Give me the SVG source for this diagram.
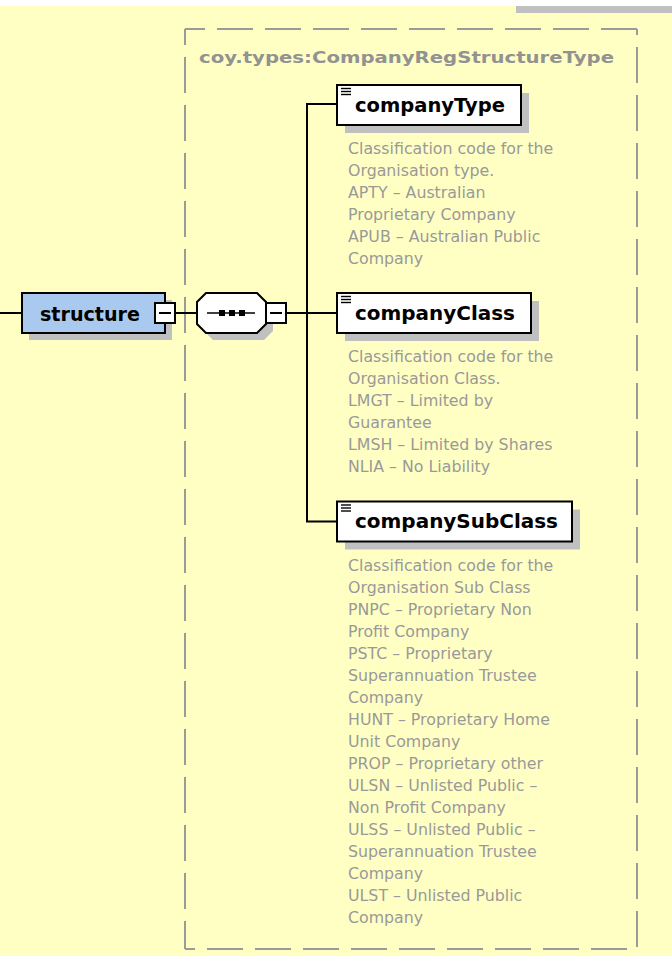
<svg xmlns="http://www.w3.org/2000/svg" width="672" height="956" viewBox="0 0 672 956">
<style>
.bg{fill:#ffffc4}
.shadow{fill:#c0c0c0}
.box{fill:#ffffff;stroke:#000;stroke-width:2}
.root{fill:#a9c9ee;stroke:#000;stroke-width:2}
.conn{stroke:#000;stroke-width:2;fill:none}
.dash{stroke:#9a9a9a;stroke-width:2;stroke-dasharray:36 12;fill:none}
.lbl{font-family:"DejaVu Sans","Liberation Sans",sans-serif;font-weight:bold;font-size:19px;fill:#000}
.title{font-family:"DejaVu Sans","Liberation Sans",sans-serif;font-weight:bold;font-size:16.5px;fill:#929292}
.desc{font-family:"DejaVu Sans","Liberation Sans",sans-serif;font-size:15.8px;fill:#999999}
.icon{stroke:#000;stroke-width:1.4}
</style>
<rect class="bg" x="0" y="0" width="672" height="956"/>
<rect x="0" y="0" width="672" height="6" fill="#ffffff"/>
<rect x="516" y="6" width="156" height="7" fill="#c0c0c0"/>

<g id="type-box">
<line class="dash" x1="185" y1="29" x2="637" y2="29" stroke-dashoffset="16"/>
<line class="dash" x1="637" y1="29" x2="637" y2="949" stroke-dashoffset="30"/>
<line class="dash" x1="185" y1="949" x2="637" y2="949" stroke-dashoffset="26"/>
<line class="dash" x1="185" y1="29" x2="185" y2="949" stroke-dashoffset="20"/>
<text class="title" x="199" y="62.5" textLength="415" lengthAdjust="spacingAndGlyphs">coy.types:CompanyRegStructureType</text>
</g>

<g id="connectors">
<line class="conn" x1="0" y1="313" x2="22" y2="313"/>
<line class="conn" x1="175" y1="313" x2="197" y2="313"/>
<line class="conn" x1="286" y1="313" x2="337" y2="313"/>
<polyline class="conn" points="337,104 307,104 307,521.5 337,521.5"/>
</g>

<g id="structure">
<rect class="shadow" x="29" y="300" width="143" height="40"/>
<rect class="root" x="22" y="293" width="143" height="40"/>
<text class="lbl" x="40" y="321" textLength="100" lengthAdjust="spacingAndGlyphs">structure</text>
<rect class="box" x="155" y="303" width="20" height="20"/>
<line class="conn" x1="159" y1="313" x2="171" y2="313"/>
</g>

<g id="sequence">
<polygon class="shadow" points="213,300 264,300 273,309 273,331 264,340 213,340 204,331 204,309"/>
<polygon class="box" points="206,293 257,293 266,302 266,324 257,333 206,333 197,324 197,302"/>
<line x1="207" y1="313" x2="255" y2="313" stroke="#000" stroke-width="1.5"/>
<rect x="219" y="310" width="6" height="6" fill="#000"/>
<rect x="229" y="310" width="6" height="6" fill="#000"/>
<rect x="239" y="310" width="6" height="6" fill="#000"/>
<rect class="box" x="266" y="303" width="20" height="20"/>
<line class="conn" x1="270" y1="313" x2="282" y2="313"/>
</g>

<g id="companyType">
<rect class="shadow" x="345" y="93" width="184" height="40"/>
<rect class="box" x="337" y="85" width="184" height="40"/>
<line class="icon" x1="341" y1="88.5" x2="351" y2="88.5"/>
<line class="icon" x1="341" y1="91.5" x2="351" y2="91.5"/>
<line class="icon" x1="341" y1="94.5" x2="351" y2="94.5"/>
<text class="lbl" x="355" y="111.5" textLength="150" lengthAdjust="spacingAndGlyphs">companyType</text>
<text class="desc" x="348">
<tspan x="348" y="154">Classification code for the</tspan>
<tspan x="348" y="176">Organisation type.</tspan>
<tspan x="348" y="198">APTY – Australian</tspan>
<tspan x="348" y="220">Proprietary Company</tspan>
<tspan x="348" y="242">APUB – Australian Public</tspan>
<tspan x="348" y="264">Company</tspan>
</text>
</g>

<g id="companyClass">
<rect class="shadow" x="345" y="301" width="194" height="40"/>
<rect class="box" x="337" y="293" width="194" height="40"/>
<line class="icon" x1="341" y1="296.5" x2="351" y2="296.5"/>
<line class="icon" x1="341" y1="299.5" x2="351" y2="299.5"/>
<line class="icon" x1="341" y1="302.5" x2="351" y2="302.5"/>
<text class="lbl" x="355" y="319.5" textLength="160" lengthAdjust="spacingAndGlyphs">companyClass</text>
<text class="desc" x="348">
<tspan x="348" y="362.3">Classification code for the</tspan>
<tspan x="348" y="384.3">Organisation Class.</tspan>
<tspan x="348" y="406.3">LMGT – Limited by</tspan>
<tspan x="348" y="428.3">Guarantee</tspan>
<tspan x="348" y="450.3">LMSH – Limited by Shares</tspan>
<tspan x="348" y="472.3">NLIA – No Liability</tspan>
</text>
</g>

<g id="companySubClass">
<rect class="shadow" x="345" y="509.5" width="235" height="40"/>
<rect class="box" x="337" y="501.5" width="235" height="40"/>
<line class="icon" x1="341" y1="505" x2="351" y2="505"/>
<line class="icon" x1="341" y1="508" x2="351" y2="508"/>
<line class="icon" x1="341" y1="511" x2="351" y2="511"/>
<text class="lbl" x="355" y="528" textLength="203" lengthAdjust="spacingAndGlyphs">companySubClass</text>
<text class="desc" x="348">
<tspan x="348" y="570.5">Classification code for the</tspan>
<tspan x="348" y="592.5">Organisation Sub Class</tspan>
<tspan x="348" y="614.5">PNPC – Proprietary Non</tspan>
<tspan x="348" y="636.5">Profit Company</tspan>
<tspan x="348" y="658.5">PSTC – Proprietary</tspan>
<tspan x="348" y="680.5">Superannuation Trustee</tspan>
<tspan x="348" y="702.5">Company</tspan>
<tspan x="348" y="724.5">HUNT – Proprietary Home</tspan>
<tspan x="348" y="746.5">Unit Company</tspan>
<tspan x="348" y="768.5">PROP – Proprietary other</tspan>
<tspan x="348" y="790.5">ULSN – Unlisted Public –</tspan>
<tspan x="348" y="812.5">Non Profit Company</tspan>
<tspan x="348" y="834.5">ULSS – Unlisted Public –</tspan>
<tspan x="348" y="856.5">Superannuation Trustee</tspan>
<tspan x="348" y="878.5">Company</tspan>
<tspan x="348" y="900.5">ULST – Unlisted Public</tspan>
<tspan x="348" y="922.5">Company</tspan>
</text>
</g>
</svg>
